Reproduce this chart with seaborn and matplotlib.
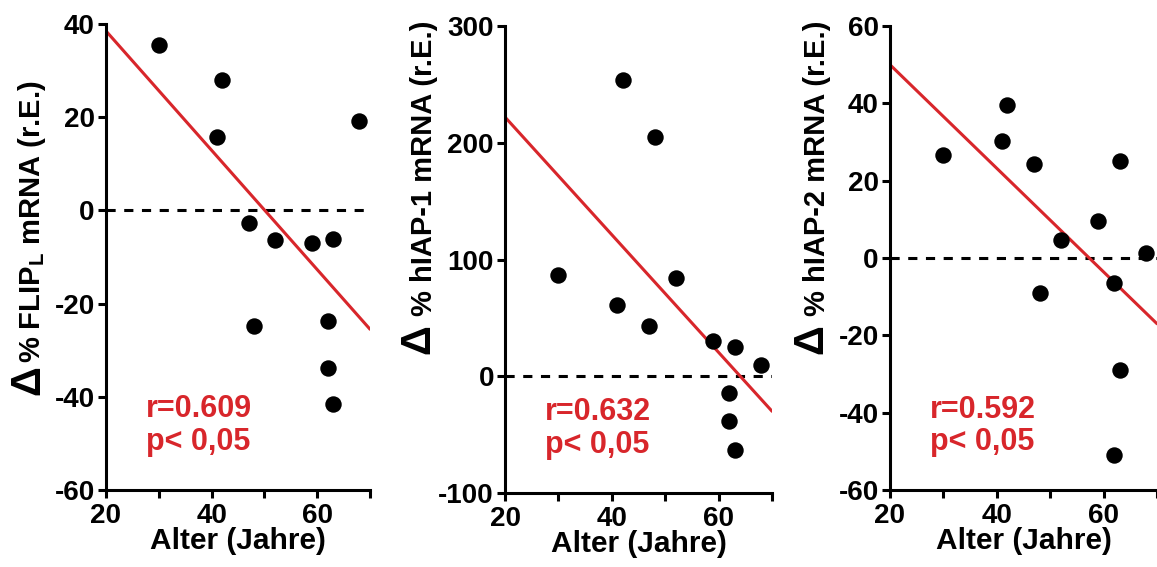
import matplotlib
matplotlib.use('Agg')
import pandas as pd
import matplotlib.pyplot as plt
import seaborn as sns

sns.set_style('ticks')
plt.rcParams['font.family'] = ['Liberation Sans', 'DejaVu Sans']
plt.rcParams['font.weight'] = 'bold'
plt.rcParams['mathtext.fontset'] = 'custom'
plt.rcParams['mathtext.rm'] = 'Liberation Sans:bold'
plt.rcParams['mathtext.default'] = 'rm'
plt.rcParams['axes.unicode_minus'] = False
for key in ['text.color', 'axes.labelcolor', 'xtick.color', 'ytick.color', 'axes.edgecolor']:
    plt.rcParams[key] = 'black'

# age of the patients (same for every panel)
alter = [30, 41, 42, 47, 48, 52, 59, 62, 62, 63, 63, 68]

# delta % mRNA per gene
flip_l = [35.5, 15.8, 28.0, -2.8, -24.8, -6.3, -7.1, -23.7, -33.8, -41.5, -6.1, 19.2]
hiap1 = [87, 61, 254, 43, 205, 84, 30, -14, -38, -63, 25, 10]
hiap2 = [26.6, 30.2, 39.5, 24.3, -9.0, 4.7, 9.6, -6.5, -51.0, -29.0, 25.0, 1.3]

# regression line end points (x = 20 and x = 70)
fit_x = [20, 70]
fit_flip_l = [38.5, -25.5]
fit_hiap1 = [222, -30]
fit_hiap2 = [50, -17]

ylabels = ['% FLIP$_{\\mathrm{L}}$ mRNA (r.E.)',
           '% hIAP-1 mRNA (r.E.)',
           '% hIAP-2 mRNA (r.E.)']
stats_text = ['r=0.609\np< 0,05', 'r=0.632\np< 0,05', 'r=0.592\np< 0,05']
ylims = [(-60, 40), (-100, 300), (-60, 60)]
ysteps = [20, 100, 20]

red = '#d8262b'

fig = plt.figure(figsize=(11.57, 5.67), dpi=100)
boxes = [[0.0916, 0.1358, 0.2282, 0.8219],
         [0.4365, 0.1305, 0.2308, 0.8236],
         [0.7692, 0.1358, 0.2308, 0.8183]]
label_pos = [(-0.22, 0.575), (-0.251, 0.696), (-0.221, 0.694)]
delta_gap = [2, 8, 8]

panels = [(flip_l, fit_flip_l), (hiap1, fit_hiap1), (hiap2, fit_hiap2)]

axes = []
for i, (vals, fit) in enumerate(panels):
    ax = fig.add_axes(boxes[i])
    axes.append(ax)
    df = pd.DataFrame({'alter': alter, 'wert': vals})
    fit_df = pd.DataFrame({'alter': fit_x, 'wert': fit})

    ax.axhline(0, color='black', lw=2.2, ls=(0, (3, 2.8)), zorder=1)
    sns.lineplot(data=fit_df, x='alter', y='wert', color=red, lw=2.2, ax=ax, zorder=2)
    sns.scatterplot(data=df, x='alter', y='wert', color='black', s=140,
                    edgecolor='black', linewidth=0, ax=ax, zorder=3, clip_on=False)

    ax.set_xlim(20, 70)
    ax.set_ylim(*ylims[i])
    lo, hi = ylims[i]
    ax.set_yticks(list(range(lo, hi + 1, ysteps[i])))
    ax.set_xticks([20, 40, 60])
    ax.set_xticks([30, 50, 70], minor=True)
    ax.tick_params(axis='both', which='both', width=2.2, length=6, labelsize=20, pad=2)
    ax.tick_params(axis='x', pad=3)
    for lab in ax.get_xticklabels() + ax.get_yticklabels():
        lab.set_fontweight('bold')

    sns.despine(ax=ax)
    for sp in ['left', 'bottom']:
        ax.spines[sp].set_linewidth(2.2)

    ax.set_xlabel('Alter (Jahre)', fontsize=21.5, fontweight='bold', labelpad=-1)
    ax.set_ylabel(ylabels[i], fontsize=21, fontweight='bold')
    ax.yaxis.set_label_coords(*label_pos[i])
    ax.text(0.15, 0.205, stats_text[i], transform=ax.transAxes, color=red,
            fontsize=22, fontweight='bold', va='top', ha='left', linespacing=1.1)

# the big delta sign below each y label
fig.canvas.draw()
for i, ax in enumerate(axes):
    bb = ax.yaxis.label.get_window_extent()
    fig.text(bb.x1, bb.y0 - delta_gap[i], 'Δ', transform=None, rotation=90,
             rotation_mode='anchor', ha='right', va='bottom',
             fontsize=30, fontweight='bold')

fig.savefig('out.png', dpi=100)
